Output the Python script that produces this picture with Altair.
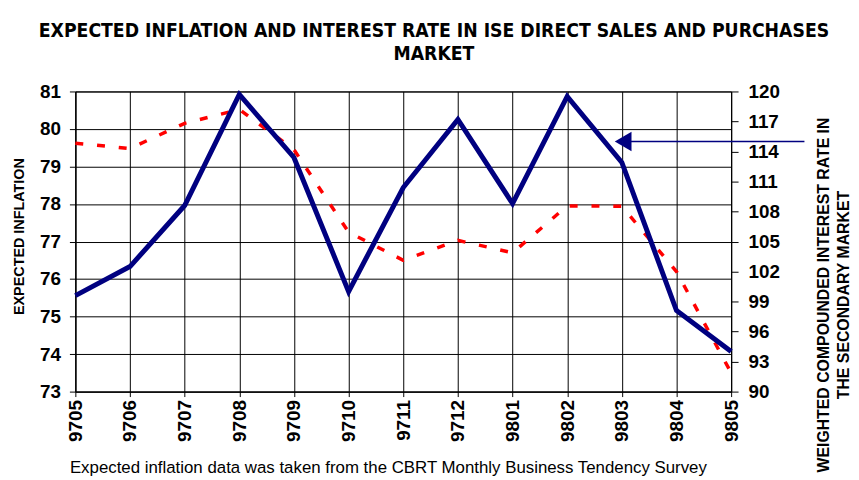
import altair as alt
import pandas as pd

months = ["9705", "9706", "9707", "9708", "9709", "9710", "9711",
          "9712", "9801", "9802", "9803", "9804", "9805"]
expected_inflation = [79.62, 79.48, 80.15, 80.52, 79.45, 77.25, 76.5,
                      77.03, 76.7, 77.95, 77.94, 76.2, 73.5]
interest_rate = [99.6, 102.5, 108.6, 119.7, 113.4, 100.0, 110.4,
                 117.2, 108.8, 119.5, 112.9, 98.1, 94.0]
infl_ticks = [73, 74, 75, 76, 77, 78, 79, 80, 81]
rate_ticks = [90, 93, 96, 99, 102, 105, 108, 111, 114, 117, 120]
arrow_rate = [115.0]

df = pd.DataFrame({"month": months, "infl": expected_inflation, "rate": interest_rate})
arrow_df = pd.DataFrame({"rate": arrow_rate})

W, H = 662, 303
FONT = "Liberation Sans"
NARROW = "Liberation Sans Narrow, DejaVu Sans Condensed, Liberation Sans"

x = alt.X("month:O", sort=months, scale=alt.Scale(padding=0),
          axis=alt.Axis(title=None, labelAngle=270, labelAlign="right",
                        labelBaseline="middle", labelFont=FONT, labelFontSize=19,
                        labelFontWeight="bold", labelColor="black", labelPadding=3,
                        labelOverlap=False,
                        tickSize=5, tickColor="black", domainColor="black",
                        grid=True, gridColor="black", gridOpacity=1, gridWidth=1))

infl_line = alt.Chart(df).mark_line(color="#ff0000", strokeWidth=3.5,
                                    strokeDash=[8, 14]).encode(
    x=x,
    y=alt.Y("infl:Q", scale=alt.Scale(domain=[73, 81], nice=False, zero=False),
            axis=alt.Axis(values=infl_ticks, title="EXPECTED INFLATION",
                          titleFont=FONT, titleFontSize=14.5, titleFontWeight="bold",
                          titleColor="black", titleAngle=270, titleBaseline="middle",
                          titleAlign="center", titleX=-56, titleY=146,
                          labelFont=FONT, labelFontSize=19, labelFontWeight="bold",
                          labelColor="black", labelPadding=9, tickSize=6,
                          labelOverlap=False,
                          tickColor="black", domainColor="black",
                          grid=True, gridColor="black", gridOpacity=1, gridWidth=1)),
)

rate_scale = alt.Scale(domain=[90, 120], nice=False, zero=False)
rate_axis = alt.Axis(orient="right", values=rate_ticks,
                     title=["WEIGHTED COMPOUNDED INTEREST RATE IN",
                            "THE SECONDARY MARKET"],
                     titleFont=FONT, titleFontSize=16, titleFontWeight="bold",
                     titleColor="black", titleAngle=270, titleBaseline="middle",
                     titleAlign="center", titleX=93, titleY=205,
                     titleLineHeight=20,
                     labelFont=FONT, labelFontSize=19, labelFontWeight="bold",
                     labelColor="black", labelPadding=10, tickSize=7,
                     labelOverlap=False,
                     tickColor="black", domainColor="black", grid=False)

rate_line = alt.Chart(df).mark_line(color="#000080", strokeWidth=5).encode(
    x=x,
    y=alt.Y("rate:Q", scale=rate_scale, axis=rate_axis),
)

arrow_line = alt.Chart(arrow_df).mark_rule(color="#000080", strokeWidth=1.5).encode(
    x=alt.value(550), x2=alt.value(736),
    y=alt.Y("rate:Q", scale=rate_scale, axis=rate_axis),
)
arrow_head = alt.Chart(arrow_df).mark_point(
    shape="triangle-left", filled=True, color="#000080", opacity=1, size=380
).encode(
    x=alt.value(553),
    y=alt.Y("rate:Q", scale=rate_scale, axis=rate_axis),
)

rate_layer = alt.layer(rate_line, arrow_line, arrow_head)

footnote = alt.Chart(pd.DataFrame({"t": ["Expected inflation data was taken from the CBRT Monthly Business Tendency Survey"]})).mark_text(
    font=FONT, fontSize=17, color="black", align="center", baseline="middle"
).encode(text="t:N", x=alt.value(316), y=alt.value(H + 77))

chart = alt.layer(infl_line, rate_layer, footnote).resolve_scale(y="independent").properties(
    width=W, height=H,
    title=alt.TitleParams(
        text=["EXPECTED INFLATION AND INTEREST RATE IN ISE DIRECT SALES AND PURCHASES",
              "MARKET"],
        font=NARROW, fontSize=19.4, fontWeight="bold", color="black",
        anchor="middle", dx=31, offset=18, lineHeight=24),
    autosize=alt.AutoSizeParams(type="none"),
    padding={"left": 68, "top": 82, "right": 121, "bottom": 90},
).configure_view(stroke="black", strokeWidth=1)

chart.save("out.html", embed_options={"renderer": "svg", "actions": False})
